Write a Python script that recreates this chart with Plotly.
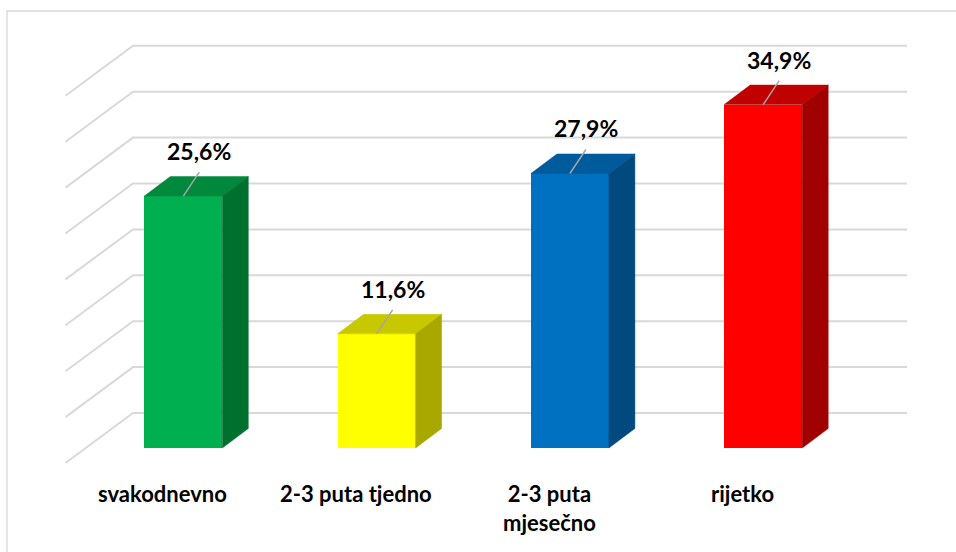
import plotly.graph_objects as go

# ---- data ----
categories = ["svakodnevno", "2-3 puta tjedno", "2-3 puta<br>mjesečno", "rijetko"]
values = [25.6, 11.6, 27.9, 34.9]
front_colors = ["#00b050", "#ffff00", "#0070c0", "#ff0000"]
top_colors = ["#00893d", "#c8c800", "#005b9c", "#c00000"]
side_colors = ["#00702f", "#a8a800", "#004a80", "#a00000"]
grid_values = [0, 5, 10, 15, 20, 25, 30, 35, 40]

# ---- geometry (pixel sizes converted into axis units) ----
W, H = 956, 552
CAT_PX = 193.3      # pixels between category centres
PCT_PX = 9.84       # pixels per percent on the bar front
X0_PX = 183.3       # pixel x of the first category centre
BASE_PX = 448.0     # pixel y of the bar baseline


def ux(px):
    return px / CAT_PX


def uy(px):
    return px / PCT_PX


x_range = [-X0_PX / CAT_PX, (W - X0_PX) / CAT_PX]
y_range = [(BASE_PX - H) / PCT_PX, BASE_PX / PCT_PX]

BAR_W = ux(78)
DEPTH_X = ux(26)
DEPTH_Y = uy(19.5)

# back wall and side wall
WALL_ZERO = uy(BASE_PX - 413)
WALL_SCALE = 9.18 / PCT_PX
WALL_LEFT = ux(133 - X0_PX)
WALL_RIGHT = ux(907 - X0_PX)
SIDE_LEFT = ux(65.5 - X0_PX)
SIDE_DROP = uy(50)

GRID_COLOR = "#d9d9d9"
FONT = "Lato, 'Open Sans', sans-serif"

fig = go.Figure()

# wall gridlines (side wall diagonal + back wall horizontal)
shapes = []
for g in grid_values:
    yb = WALL_ZERO + WALL_SCALE * g
    yl = yb - SIDE_DROP
    shapes.append(dict(
        type="path", xref="x", yref="y", layer="below",
        path=f"M {SIDE_LEFT},{yl} L {WALL_LEFT},{yb} L {WALL_RIGHT},{yb}",
        line=dict(color=GRID_COLOR, width=2),
    ))

# chart frame
shapes.append(dict(
    type="path", xref="paper", yref="paper", layer="below",
    path=f"M {7 / W},0 L {7 / W},{1 - 11 / H} L 1.01,{1 - 11 / H}",
    line=dict(color="#d9d9d9", width=1.3),
))

xs = list(range(len(values)))

# front faces
fig.add_trace(go.Bar(
    x=xs, y=values, width=BAR_W,
    marker=dict(color=front_colors, line=dict(width=0)),
    hoverinfo="skip",
))

# top and side faces
for cx, v, tc, sc in zip(xs, values, top_colors, side_colors):
    l, r = cx - BAR_W / 2, cx + BAR_W / 2
    fig.add_trace(go.Scatter(
        x=[l, r, r + DEPTH_X, l + DEPTH_X, l],
        y=[v, v, v + DEPTH_Y, v + DEPTH_Y, v],
        mode="lines", fill="toself", fillcolor=tc,
        line=dict(color=tc, width=0.5), hoverinfo="skip",
    ))
    fig.add_trace(go.Scatter(
        x=[r, r + DEPTH_X, r + DEPTH_X, r, r],
        y=[0, DEPTH_Y, v + DEPTH_Y, v, 0],
        mode="lines", fill="toself", fillcolor=sc,
        line=dict(color=sc, width=0.5), hoverinfo="skip",
    ))

# leader lines and value labels
annotations = []
for cx, v in zip(xs, values):
    lx = cx + ux(16)
    fig.add_trace(go.Scatter(
        x=[cx, lx], y=[v, v + uy(24)], mode="lines",
        line=dict(color="#a6a6a6", width=1.5), hoverinfo="skip",
    ))
    annotations.append(dict(
        x=lx, y=v + uy(45), xref="x", yref="y", showarrow=False,
        text=f"{v:.1f}".replace(".", ",") + "%",
        font=dict(family=FONT, size=23, color="#000000", weight="bold"),
        xanchor="center", yanchor="middle",
    ))

# category labels
for cx, name in zip(xs, categories):
    annotations.append(dict(
        x=cx - ux(20.6), y=uy(BASE_PX - 478), xref="x", yref="y",
        showarrow=False, text=name, align="center",
        font=dict(family=FONT, size=22, color="#000000", weight="bold"),
        xanchor="center", yanchor="top",
    ))

fig.update_layout(
    width=W, height=H,
    margin=dict(l=0, r=0, t=0, b=0),
    paper_bgcolor="#ffffff", plot_bgcolor="#ffffff",
    showlegend=False,
    shapes=shapes, annotations=annotations,
    xaxis=dict(range=x_range, visible=False, fixedrange=True),
    yaxis=dict(range=y_range, visible=False, fixedrange=True),
    bargap=0,
)

fig.write_html("out.html", config={"displayModeBar": False})
